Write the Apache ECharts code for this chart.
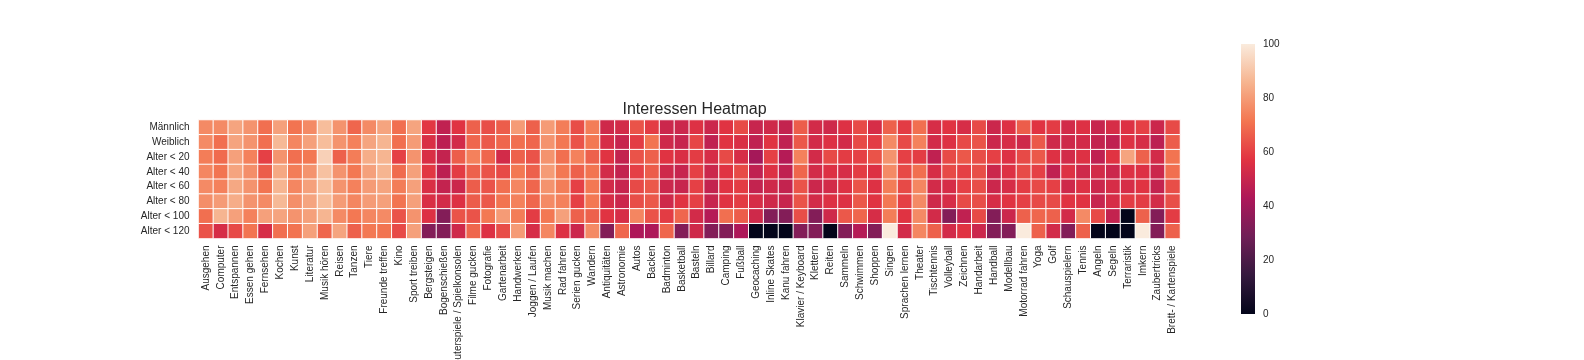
<!DOCTYPE html>
<html><head><meta charset="utf-8">
<script src="https://cdn.jsdelivr.net/npm/echarts@6/dist/echarts.min.js"></script>
<style>html,body{margin:0;padding:0;background:#fff}#c{width:1584px;height:360px}</style>
</head><body><div id="c"></div>
<script>
const interests = ['Ausgehen','Computer','Entspannen','Essen gehen','Fernsehen','Kochen','Kunst','Literatur','Musik hören','Reisen','Tanzen','Tiere','Freunde treffen','Kino','Sport treiben','Bergsteigen','Bogenschießen','Computerspiele / Spielkonsolen','Filme gucken','Fotografie','Gartenarbeit','Handwerken','Joggen / Laufen','Musik machen','Rad fahren','Serien gucken','Wandern','Antiquitäten','Astronomie','Autos','Backen','Badminton','Basketball','Basteln','Billard','Camping','Fußball','Geocaching','Inline Skates','Kanu fahren','Klavier / Keyboard','Klettern','Reiten','Sammeln','Schwimmen','Shoppen','Singen','Sprachen lernen','Theater','Tischtennis','Volleyball','Zeichnen','Handarbeit','Handball','Modellbau','Motorrad fahren','Yoga','Golf','Schauspielern','Tennis','Angeln','Segeln','Terraristik','Imkern','Zaubertricks','Brett- / Kartenspiele'];
const groups = ['Männlich','Weiblich','Alter < 20','Alter < 40','Alter < 60','Alter < 80','Alter < 100','Alter < 120'];

const maennlich = [76,76,82,78,70,81,71,76,88,78,68,76,82,70,82,58,48, 57,67,63,66,80,67,80,73,63,73,52,53,64,59,51,51, 56, 51,57,62,50,52,49,66,53,52,56,62,54,67,59,70,54, 57,54,62,51,56,66,57,59,53,56,50,54,56,60,51,62];
const weiblich = [76,70,82,78,70,87,75,81,88,78,74,82,86,70,80,55,47, 53,68,65,68,70,68,78,72,64,72,54,50,59,71,52,50, 61, 48,57,55,48,57,48,65,53,56,53,62,59,76,62,74,53, 56,62,64,51,54,52,65,52,52,53,49,48,56,54,47,66];
const alter20 = [73,69,81,74,60,78,70,72,93,67,73,84,86,60,78,55,49, 66,74,68,53,67,64,78,70,74,67,57,49,64,67,57,55, 59, 54,62,54,41,60,45,74,53,62,59,60,64,78,60,59,48, 62,65,63,60,56,62,65,56,53,56,48,57,82,67,53,71];
const alter40 = [75,71,82,77,66,83,73,78,89,78,72,81,86,69,81,58,47, 59,67,64,62,72,67,80,72,67,71,53,49,60,66,52,50, 60, 51,57,62,48,56,48,68,53,56,54,59,56,76,62,70,54, 62,60,63,51,56,62,60,48,56,52,53,51,56,56,51,70];
const alter60 = [76,74,83,78,71,86,75,81,88,78,74,80,82,73,81,55,49, 51,66,64,70,75,68,78,73,60,72,53,50,62,65,51,50, 60, 49,57,59,49,52,49,64,51,53,56,64,56,73,62,75,53, 54,60,63,51,54,59,62,60,52,56,51,54,54,57,49,63];
const alter80 = [77,80,84,78,76,87,77,82,88,80,75,80,81,71,81,55,53, 56,66,65,71,74,68,76,74,60,72,54,51,63,65,52,57, 60, 50,57,59,54,52,50,64,53,56,56,65,57,72,60,76,52, 54,62,63,54,57,60,62,62,57,57,50,54,59,59,53,63];
const alter100 = [70,86,81,74,81,82,78,81,86,76,72,75,76,64,78,56,33, 64,64,72,80,73,59,72,81,67,67,57,54,75,64,59,68, 53, 45,70,66,52,33,33,63,33,52,65,68,54,73,57,76,53, 33,48,62,33,51,67,68,67,53,76,62,49,0,67,33,59];
const alter120 = [64,54,62,71,54,70,71,81,68,82,67,72,71,62,81,33,33, 52,68,56,63,80,54,75,56,51,76,33,68,43,43,68,33, 52, 33,33,43,0,0,0,33,33,0,33,45,33,100,53,75,67, 53,57,51,33,33,100,67,53,33,67,0,0,0,100,33,67];

const colorbarTicks = [0, 20, 40, 60, 80, 100];
const rocket = ['#03051a','#35193e','#701f57','#ad1759','#e13342','#f37651','#f6b48f','#faebdd'];

const rows = [maennlich, weiblich, alter20, alter40, alter60, alter80, alter100, alter120];
const heatData = [];
rows.forEach((r, yi) => r.forEach((v, xi) => heatData.push([xi, yi, v])));

const FONT = "'Liberation Sans', Arial, sans-serif";
const TXT = '#262626';
const chart = echarts.init(document.getElementById('c'), null, {renderer: 'canvas'});
const gradStops = rocket.map((c, i) => ({offset: i / (rocket.length - 1), color: c}));

chart.setOption({
  animation: false,
  backgroundColor: '#fff',
  textStyle: {fontFamily: FONT},
  title: {
    text: 'Interessen Heatmap',
    left: 689.5, top: 97, textAlign: 'center',
    textStyle: {fontFamily: FONT, fontSize: 16, fontWeight: 'normal', color: TXT}
  },
  grid: [
    {left: 198.5, top: 120, width: 981.5, height: 118.5, containLabel: false, outerBoundsMode: 'none'},
    {left: 1241, top: 44, width: 14, height: 270, containLabel: false, outerBoundsMode: 'none'}
  ],
  xAxis: [
    {type: 'category', gridIndex: 0, data: interests, position: 'bottom',
     axisLine: {show: false}, axisTick: {show: false}, splitLine: {show: false},
     axisLabel: {interval: 0, rotate: 90, margin: 7, fontSize: 10, color: TXT, fontFamily: FONT, hideOverlap: false}},
    {type: 'category', gridIndex: 1, data: ['cb'], show: false}
  ],
  yAxis: [
    {type: 'category', gridIndex: 0, data: groups, inverse: true,
     axisLine: {show: false}, axisTick: {show: false}, splitLine: {show: false},
     axisLabel: {interval: 0, margin: 9, fontSize: 10, color: TXT, fontFamily: FONT, hideOverlap: false}},
    {type: 'value', gridIndex: 1, min: 0, max: 100, interval: 20, position: 'right',
     axisLine: {show: false}, axisTick: {show: false}, splitLine: {show: false},
     axisLabel: {margin: 8, fontSize: 10, color: TXT, fontFamily: FONT,
       formatter: v => colorbarTicks.includes(v) ? String(v) : ''}}
  ],
  visualMap: {
    show: false, type: 'continuous', min: 0, max: 100, seriesIndex: 0,
    inRange: {color: rocket}
  },
  series: [
    {type: 'heatmap', xAxisIndex: 0, yAxisIndex: 0, data: heatData,
     itemStyle: {borderColor: '#ffffff', borderWidth: 1},
     emphasis: {disabled: true}},
    {type: 'bar', xAxisIndex: 1, yAxisIndex: 1, data: [100], barWidth: '100%',
     silent: true,
     itemStyle: {color: new echarts.graphic.LinearGradient(0, 1, 0, 0, gradStops)}}
  ]
});
</script></body></html>
